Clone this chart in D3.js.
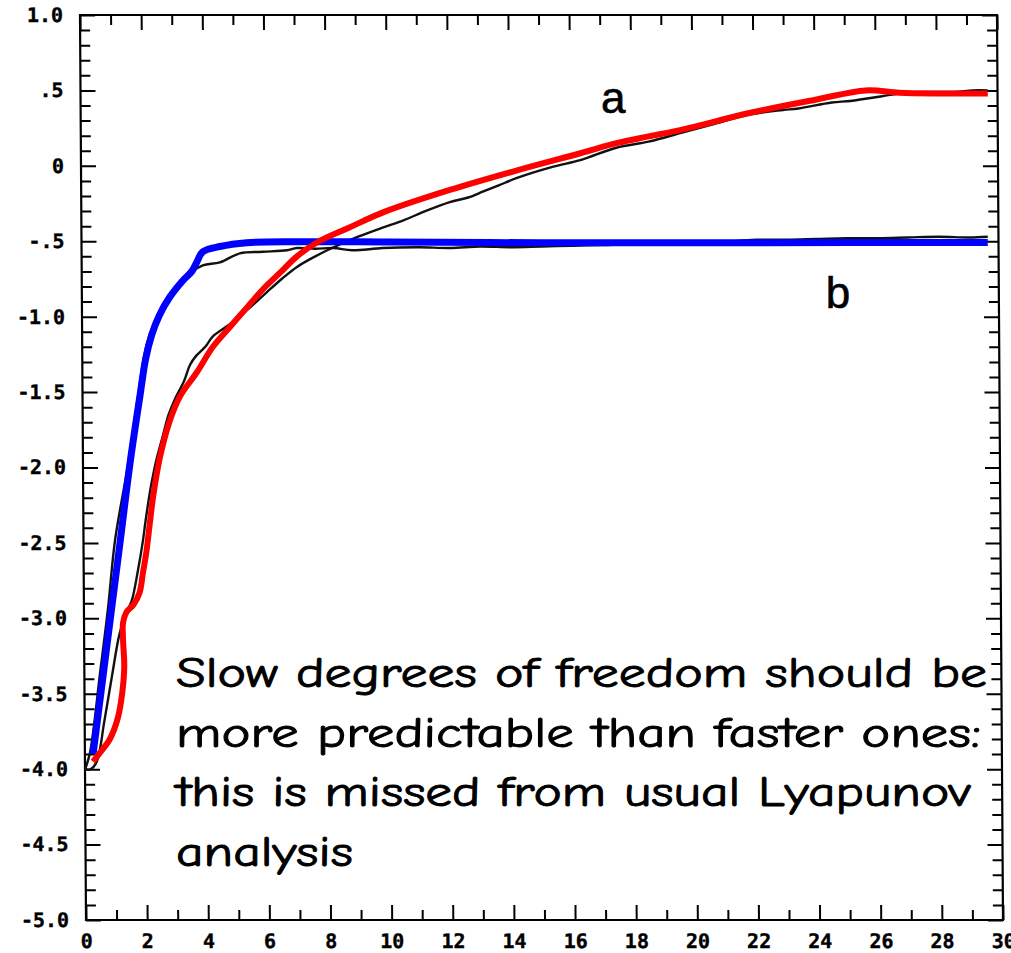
<!DOCTYPE html>
<html><head><meta charset="utf-8">
<script src="https://cdn.jsdelivr.net/npm/d3@7"></script>
<style>html,body{margin:0;padding:0;background:#fff;}svg{display:block;}</style>
</head><body>
<svg id="chart" width="1011" height="953"></svg>
<script>
// ---- data (t, value) ----
const blackA = [[0.07,-4.0],[0.25,-4.0],[0.45,-3.95],[0.7,-3.68],[0.95,-3.38],[1.2,-3.1],[1.45,-2.95],[1.6,-2.88],[1.8,-2.68],[1.95,-2.5],[2.05,-2.35],[2.2,-2.15],[2.4,-1.95],[2.6,-1.8],[2.8,-1.65],[3.0,-1.55],[3.3,-1.43],[3.5,-1.32],[3.7,-1.26],[4.0,-1.2],[4.25,-1.13],[4.8,-1.05],[5.4,-0.95],[6.0,-0.84],[6.5,-0.75],[7.0,-0.67],[7.6,-0.6],[8.2,-0.54],[9.0,-0.47],[9.8,-0.41],[10.5,-0.36],[11.2,-0.3],[12.0,-0.24],[12.6,-0.21],[13.1,-0.17],[13.6,-0.13],[14.2,-0.08],[15.3,-0.01],[16.3,0.04],[17.45,0.12],[18.5,0.16],[19.6,0.22],[20.7,0.28],[21.8,0.34],[22.9,0.37],[23.4,0.38],[24.5,0.42],[25.1,0.43],[26.1,0.46],[26.7,0.48],[27.5,0.49],[28.5,0.49],[29.1,0.5],[29.6,0.5]];
const blackB = [[0.07,-4.0],[0.23,-3.89],[0.56,-3.36],[0.82,-2.93],[1.05,-2.48],[1.44,-2.02],[1.8,-1.53],[2.09,-1.18],[2.52,-0.96],[3.07,-0.8],[3.5,-0.71],[3.92,-0.66],[4.48,-0.64],[5.13,-0.58],[5.88,-0.57],[6.67,-0.56],[7.0,-0.545],[7.6,-0.55],[8.2,-0.545],[8.8,-0.56],[9.8,-0.545],[11.0,-0.54],[12.0,-0.545],[13.0,-0.535],[14.0,-0.54],[15.0,-0.535],[16.0,-0.53],[17.0,-0.525],[18.0,-0.52],[19.0,-0.52],[20.0,-0.515],[21.0,-0.505],[22.0,-0.49],[23.0,-0.49],[24.0,-0.485],[25.0,-0.48],[26.0,-0.48],[27.0,-0.475],[28.0,-0.47],[29.0,-0.475],[29.6,-0.47]];
const fitA = [[0.33,-3.95],[0.56,-3.89],[0.88,-3.8],[1.14,-3.66],[1.28,-3.5],[1.35,-3.32],[1.31,-3.14],[1.31,-3.03],[1.42,-2.96],[1.65,-2.91],[1.85,-2.83],[1.96,-2.7],[2.08,-2.55],[2.18,-2.38],[2.29,-2.2],[2.52,-1.93],[2.84,-1.69],[3.17,-1.53],[3.72,-1.37],[4.25,-1.2],[4.8,-1.07],[5.36,-0.94],[5.88,-0.82],[6.44,-0.71],[7.0,-0.6],[7.64,-0.51],[8.7,-0.41],[9.8,-0.31],[12.0,-0.16],[14.2,-0.03],[16.3,0.085],[17.45,0.15],[18.5,0.195],[19.6,0.24],[21.8,0.35],[24.0,0.44],[25.6,0.5],[26.7,0.485],[27.8,0.48],[29.6,0.48]];
const fitB = [[0.33,-3.9],[0.77,-3.2],[1.21,-2.5],[1.54,-1.97],[1.86,-1.53],[2.05,-1.28],[2.25,-1.12],[2.5,-0.99],[2.84,-0.87],[3.27,-0.76],[3.56,-0.7],[3.72,-0.64],[3.92,-0.57],[4.48,-0.535],[5.36,-0.51],[7.0,-0.503],[10.0,-0.505],[15.0,-0.51],[20.0,-0.51],[25.0,-0.508],[29.6,-0.508]];

const yTickValues = [1.0,0.5,0,-0.5,-1.0,-1.5,-2.0,-2.5,-3.0,-3.5,-4.0,-4.5,-5.0];
const yTickLabels = ["1.0",".5","0","-.5","-1.0","-1.5","-2.0","-2.5","-3.0","-3.5","-4.0","-4.5","-5.0"];
const xTickValues = [0,2,4,6,8,10,12,14,16,18,20,22,24,26,28,30];
const xTickLabels = ["0","2","4","6","8","10","12","14","16","18","20","22","24","26","28","30"];
const curveLabels = [{text:"a", t:16.95, v:0.35}, {text:"b", t:24.3, v:-0.943}];
const noteLines = ["Slow degrees of freedom should be","more predictable than faster ones:","this is missed from usual Lyapunov","analysis"];

// ---- layout ----
const svg = d3.select("#chart");
const x = d3.scaleLinear().domain([0,30]).range([83,1000]);
const y = d3.scaleLinear().domain([1,-5]).range([15,920]);

// axes group, slightly sheared like the scanned original
const k = 6/905;
const ax = svg.append("g").attr("transform",`translate(${-k*467},0) skewX(${Math.atan(k)*180/Math.PI})`);
const tickFont = "'DejaVu Sans Mono', monospace";

function styleAxis(g){ g.select(".domain").remove(); g.selectAll("line").attr("stroke","#000").attr("stroke-width",2); }
function styleLabels(g){ g.selectAll("text").attr("font-family",tickFont).attr("font-weight","bold").attr("font-size",20).attr("fill","#000").attr("stroke","#000").attr("stroke-width",0.4); }

const minorY = d3.range(-50,11).map(d=>d/10).filter(d=>Math.abs(d*2-Math.round(d*2))>1e-6);
const minorX = d3.range(1,30,2);

// left
ax.append("g").attr("transform",`translate(${x(0)},0)`)
  .call(d3.axisLeft(y).tickValues(yTickValues).tickSize(-15).tickSizeOuter(0).tickPadding(17)
        .tickFormat((d,i)=>yTickLabels[i]))
  .call(styleAxis).call(styleLabels);
ax.append("g").attr("transform",`translate(${x(0)},0)`)
  .call(d3.axisLeft(y).tickValues(minorY).tickSize(-10).tickSizeOuter(0).tickFormat(""))
  .call(styleAxis);
// right
ax.append("g").attr("transform",`translate(${x(30)},0)`)
  .call(d3.axisRight(y).tickValues(yTickValues).tickSize(-15).tickSizeOuter(0).tickFormat(""))
  .call(styleAxis);
ax.append("g").attr("transform",`translate(${x(30)},0)`)
  .call(d3.axisRight(y).tickValues(minorY).tickSize(-10).tickSizeOuter(0).tickFormat(""))
  .call(styleAxis);
// bottom
ax.append("g").attr("transform",`translate(0,${y(-5)})`)
  .call(d3.axisBottom(x).tickValues(xTickValues).tickSize(-15).tickSizeOuter(0).tickPadding(14)
        .tickFormat((d,i)=>xTickLabels[i]))
  .call(styleAxis).call(styleLabels);
ax.append("g").attr("transform",`translate(0,${y(-5)})`)
  .call(d3.axisBottom(x).tickValues(minorX).tickSize(-10).tickSizeOuter(0).tickFormat(""))
  .call(styleAxis);
// top
ax.append("g").attr("transform",`translate(0,${y(1)})`)
  .call(d3.axisTop(x).tickValues(xTickValues).tickSize(-15).tickSizeOuter(0).tickFormat(""))
  .call(styleAxis);
ax.append("g").attr("transform",`translate(0,${y(1)})`)
  .call(d3.axisTop(x).tickValues(minorX).tickSize(-10).tickSizeOuter(0).tickFormat(""))
  .call(styleAxis);
// frame
ax.append("rect").attr("x",x(0)).attr("y",y(1)).attr("width",x(30)-x(0)).attr("height",y(-5)-y(1))
  .attr("fill","none").attr("stroke","#000").attr("stroke-width",2.2);

// ---- curves ----
const line = d3.line().x(d=>x(d[0])).y(d=>y(d[1])).curve(d3.curveCatmullRom.alpha(0.5));
svg.append("path").datum(blackA).attr("d",line).attr("fill","none").attr("stroke","#111").attr("stroke-width",2.4);
svg.append("path").datum(blackB).attr("d",line).attr("fill","none").attr("stroke","#111").attr("stroke-width",2.4);
svg.append("path").datum(fitB).attr("d",line).attr("fill","none").attr("stroke","#0000ff").attr("stroke-width",7).attr("stroke-linejoin","round");
svg.append("path").datum(fitA).attr("d",line).attr("fill","none").attr("stroke","#ff0000").attr("stroke-width",6).attr("stroke-linejoin","round");

// curve labels
svg.selectAll("text.cl").data(curveLabels).join("text").attr("class","cl")
  .attr("x",d=>x(d.t)).attr("y",d=>y(d.v))
  .attr("font-family","'Liberation Sans', Arial, sans-serif").attr("font-size",44).attr("fill","#000")
  .attr("stroke","#000").attr("stroke-width",0.6)
  .text(d=>d.text);

// annotation
const noteWidths = [811, 805, 795, 177];
svg.selectAll("text.note").data(noteLines).join("text").attr("class","note")
  .attr("x",176).attr("y",(d,i)=>687+i*59.5)
  .attr("font-family","'Comic Sans MS','Comic Neue','Lato',sans-serif").attr("font-size",42).attr("fill","#000")
  .attr("stroke","#000").attr("stroke-width",0.9)
  .attr("textLength",(d,i)=>noteWidths[i]).attr("lengthAdjust","spacingAndGlyphs")
  .text(d=>d);
</script>
</body></html>
